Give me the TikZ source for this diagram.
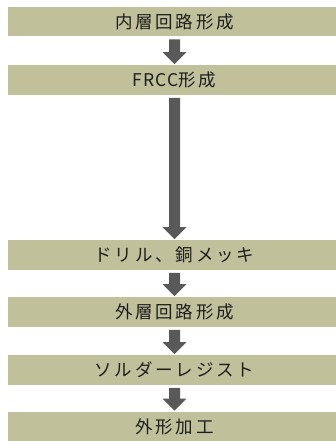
\documentclass[tikz,border=0pt]{standalone}
\usepackage{fontspec}
\setmainfont{Noto Sans CJK JP}
\usetikzlibrary{calc}
\definecolor{boxfill}{RGB}{192,192,154}
\definecolor{arrowc}{RGB}{89,89,89}
\definecolor{txt}{RGB}{30,30,30}
\newcommand\flowarrow[2]{%
  \fill[arrowc] ($(#1.south)+(-5.5,3)$) -- ($(#2.north)+(-5.5,-13)$) -- ($(#2.north)+(-12,-13)$)
    -- ($(#2.north)+(0,-1)$) -- ($(#2.north)+(12,-13)$) -- ($(#2.north)+(5.5,-13)$)
    -- ($(#1.south)+(5.5,3)$) -- cycle;}
\begin{document}
\begin{tikzpicture}[x=1pt,y=-1pt,
  stepbox/.style={fill=boxfill, minimum width=333pt, minimum height=29.5pt, inner sep=0pt,
    text=txt, font=\fontsize{17.5}{19}\selectfont\addfontfeatures{LetterSpace=16}}]
\useasboundingbox (0,0) rectangle (336,441);
\node[stepbox] (s1) at (174.5,21.5) {内層回路形成};
\node[stepbox] (s2) at (174.5,80) {{\addfontfeatures{LetterSpace=6}FRCC}形成};
\node[stepbox] (s3) at (174.5,255) {ドリル、銅メッキ};
\node[stepbox] (s4) at (174.5,312) {外層回路形成};
\node[stepbox] (s5) at (174.5,370) {ソルダーレジスト};
\node[stepbox] (s6) at (174.5,426.5) {外形加工};
\flowarrow{s1}{s2}
\flowarrow{s2}{s3}
\flowarrow{s3}{s4}
\flowarrow{s4}{s5}
\flowarrow{s5}{s6}
\end{tikzpicture}
\end{document}
